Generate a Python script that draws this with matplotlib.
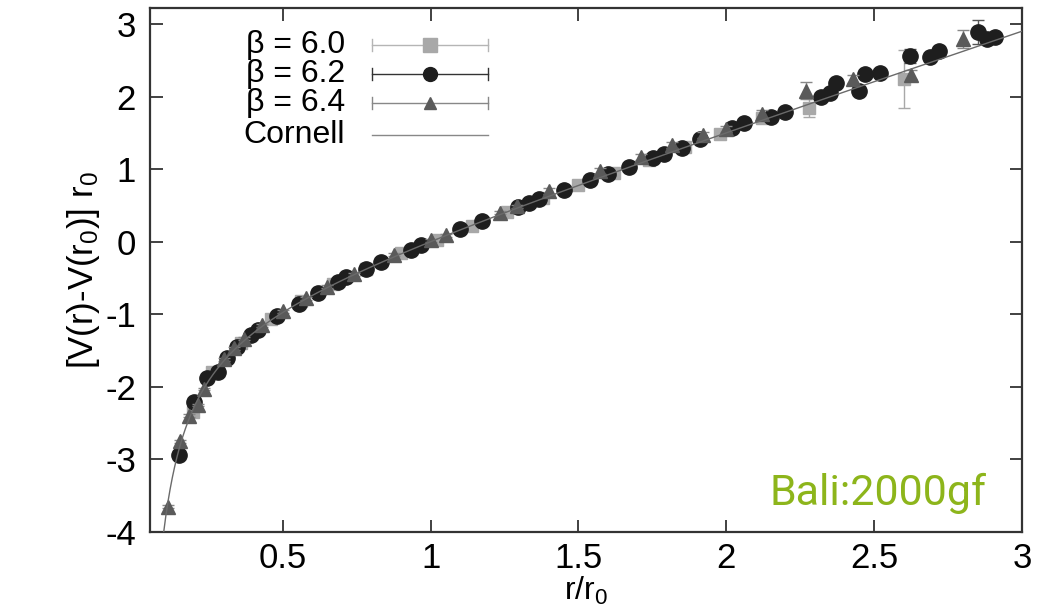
import numpy as np
import matplotlib.pyplot as plt

plt.rcParams["font.family"] = ["Liberation Sans", "DejaVu Sans"]
plt.rcParams["mathtext.default"] = "regular"
plt.rcParams["axes.unicode_minus"] = False

# beta = 6.0 (squares)
x_b60 = [0.197, 0.259, 0.36, 0.46, 0.56, 0.67, 0.78, 0.90, 1.02, 1.14, 1.26,
         1.38, 1.50, 1.62, 1.74, 1.86, 1.98, 2.12, 2.28, 2.60]
y_b60 = [-2.34, -1.80, -1.39, -1.07, -0.82, -0.58, -0.38, -0.16, 0.03, 0.22, 0.41,
         0.60, 0.78, 0.95, 1.12, 1.31, 1.48, 1.70, 1.84, 2.24]
e_b60 = [0.02, 0.02, 0.02, 0.02, 0.02, 0.02, 0.02, 0.02, 0.02, 0.02, 0.02,
         0.02, 0.03, 0.03, 0.03, 0.04, 0.05, 0.06, 0.12, 0.40]

# beta = 6.2 (circles)
x_b62 = [0.149, 0.199, 0.243, 0.28, 0.311, 0.345, 0.392, 0.416, 0.48, 0.554,
         0.618, 0.686, 0.713, 0.78, 0.831, 0.932, 0.966, 1.101, 1.175, 1.297,
         1.332, 1.365, 1.45, 1.54, 1.60, 1.67, 1.753, 1.79, 1.85, 1.91, 2.02,
         2.06, 2.15, 2.20, 2.32, 2.35, 2.37, 2.45, 2.47, 2.52, 2.62, 2.69,
         2.72, 2.85, 2.88, 2.91]
y_b62 = [-2.94, -2.21, -1.88, -1.79, -1.60, -1.45, -1.28, -1.21, -1.03, -0.86,
         -0.71, -0.56, -0.49, -0.37, -0.28, -0.12, -0.05, 0.17, 0.29, 0.48,
         0.53, 0.59, 0.71, 0.85, 0.93, 1.03, 1.16, 1.21, 1.29, 1.42, 1.57,
         1.64, 1.72, 1.79, 2.00, 2.05, 2.19, 2.08, 2.31, 2.32, 2.56, 2.54,
         2.63, 2.89, 2.79, 2.82]
e_b62 = [0.02, 0.02, 0.02, 0.02, 0.02, 0.02, 0.02, 0.02, 0.02, 0.02,
         0.02, 0.02, 0.02, 0.02, 0.02, 0.02, 0.02, 0.02, 0.02, 0.02,
         0.02, 0.02, 0.02, 0.02, 0.02, 0.02, 0.02, 0.02, 0.03, 0.03, 0.03,
         0.03, 0.03, 0.03, 0.04, 0.04, 0.05, 0.05, 0.04, 0.04, 0.10, 0.05,
         0.06, 0.17, 0.06, 0.06]

# beta = 6.4 (triangles)
x_b64 = [0.111, 0.152, 0.182, 0.213, 0.233, 0.30, 0.334, 0.37, 0.43, 0.50,
         0.58, 0.65, 0.74, 0.876, 1.0, 1.051, 1.236, 1.293, 1.402, 1.574,
         1.71, 1.818, 1.92, 2.0, 2.12, 2.27, 2.427, 2.624, 2.799]
y_b64 = [-3.65, -2.75, -2.40, -2.25, -2.03, -1.62, -1.47, -1.34, -1.15, -0.96,
         -0.78, -0.62, -0.45, -0.18, 0.02, 0.09, 0.40, 0.49, 0.70, 0.97,
         1.17, 1.33, 1.47, 1.55, 1.76, 2.08, 2.24, 2.30, 2.79]
e_b64 = [0.02, 0.02, 0.02, 0.02, 0.02, 0.02, 0.02, 0.02, 0.02, 0.02,
         0.02, 0.02, 0.02, 0.02, 0.02, 0.02, 0.02, 0.02, 0.04, 0.04,
         0.04, 0.04, 0.04, 0.04, 0.05, 0.12, 0.05, 0.06, 0.12]

# Cornell fit: (V(r)-V(r0)) r0 = -e (r0/r - 1) + sigma r0^2 (r/r0 - 1)
cornell_e = 0.30
cornell_sigma = 1.35

fig = plt.figure(figsize=(10.46, 6.09), dpi=100)
ax = fig.add_axes([150 / 1046, 77 / 609, 872 / 1046, 524 / 609])

ax.errorbar(x_b60, y_b60, yerr=e_b60, fmt="s", color="#a8a8a8", ms=9,
            elinewidth=1, capsize=4, zorder=2)
ax.errorbar(x_b62, y_b62, yerr=e_b62, fmt="o", color="#1e1e1e", ecolor="#555555",
            ms=11, elinewidth=1, capsize=4, zorder=3)
ax.errorbar(x_b64, y_b64, yerr=e_b64, fmt="^", color="#5a5a5a", ecolor="#888888",
            ms=10, elinewidth=1, capsize=4, zorder=4)

r = np.linspace(0.09, 3.0, 400)
v = -cornell_e * (1 / r - 1) + cornell_sigma * (r - 1)
ax.plot(r, v, color="#6a6a6a", lw=1.0, zorder=5)

ax.set_xlim(0.051, 3.0)
ax.set_ylim(-4, 3.22)
ax.set_xticks([0.5, 1, 1.5, 2, 2.5, 3])
ax.set_xticklabels(["0.5", "1", "1.5", "2", "2.5", "3"])
ax.set_yticks([-4, -3, -2, -1, 0, 1, 2, 3])
ax.tick_params(direction="in", length=9, width=1.3, top=True, right=True,
               labelsize=25, color="#333333")
ax.tick_params(axis="x", pad=7)
ax.tick_params(axis="y", pad=10)
for s in ax.spines.values():
    s.set_linewidth(1.6)
    s.set_color("#333333")

ax.set_xlabel("r/r$_0$", fontsize=23, labelpad=0)
ax.set_ylabel("[V(r)-V(r$_0$)] r$_0$", fontsize=25, labelpad=2)

# gnuplot-style key
labels = ["\u03b2 = 6.0", "\u03b2 = 6.2", "\u03b2 = 6.4", "Cornell"]
key_y = [0.929, 0.874, 0.819, 0.758]
line_cols = ["#b5b5b5", "#333333", "#888888", "#888888"]
mk = ["s", "o", "^", None]
mk_cols = ["#a8a8a8", "#1e1e1e", "#5a5a5a", None]
for lab, yy, lc, m, mc in zip(labels, key_y, line_cols, mk, mk_cols):
    ax.text(0.224, yy, lab, transform=ax.transAxes, ha="right", va="center",
            fontsize=23)
    ax.plot([0.255, 0.388], [yy, yy], transform=ax.transAxes, color=lc, lw=1.0)
    if m is not None:
        ax.plot([0.255, 0.255], [yy - 0.012, yy + 0.012], transform=ax.transAxes,
                color=lc, lw=1.0)
        ax.plot([0.388, 0.388], [yy - 0.012, yy + 0.012], transform=ax.transAxes,
                color=lc, lw=1.0)
        ax.plot([0.321], [yy], marker=m, ms=10 if m != "^" else 8, color=mc,
                transform=ax.transAxes)

ax.text(0.711, 0.052, "Bali:2000gf", transform=ax.transAxes, ha="left",
        va="baseline", fontsize=31, color="#8db51b",
        family=["Roboto", "DejaVu Sans"])

fig.savefig("out.png", dpi=100)
